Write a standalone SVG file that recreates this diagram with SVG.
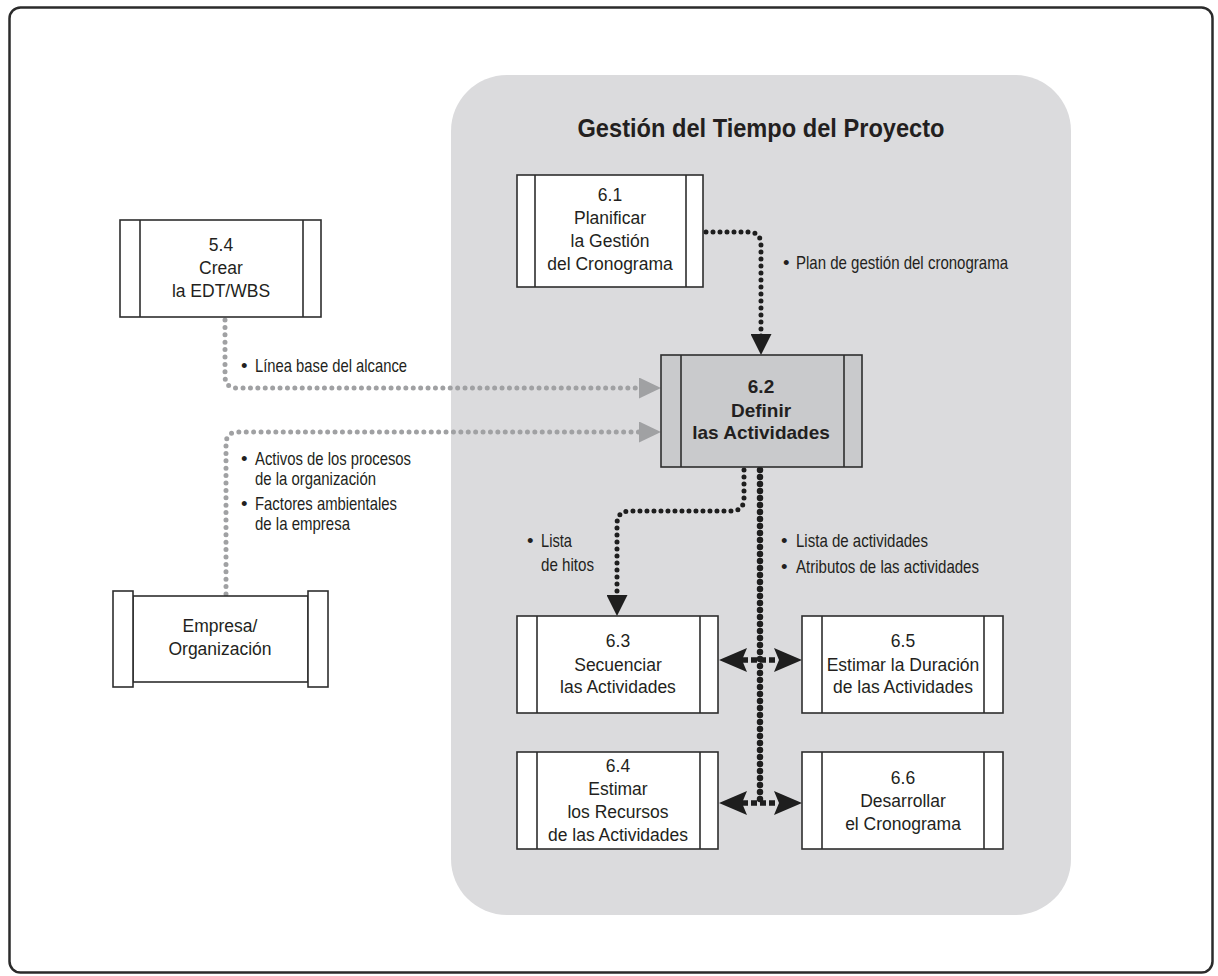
<svg xmlns="http://www.w3.org/2000/svg" width="1218" height="976" viewBox="0 0 1218 976">
  <defs>
    <style>
      .frame { fill: #ffffff; stroke: #2b2b2b; stroke-width: 2.5; }
      .panel { fill: #dbdbdd; }
      .box { fill: #ffffff; stroke: #2e2e2e; stroke-width: 1.6; }
      .box-hi { fill: #c9cacc; stroke: #2e2e2e; stroke-width: 1.6; }
      .bar { fill: none; stroke: #2e2e2e; stroke-width: 1.6; }
      .nt { font-family: "Liberation Sans", Arial, sans-serif; font-size: 17.5px; fill: #231f20; text-anchor: middle; }
      .nt-b { font-family: "Liberation Sans", Arial, sans-serif; font-size: 19px; font-weight: bold; fill: #231f20; text-anchor: middle; }
      .title { font-family: "Liberation Sans Narrow", "Liberation Sans", Arial, sans-serif; font-size: 25px; font-weight: bold; fill: #231f20; text-anchor: middle; }
      .lbl { font-family: "Liberation Sans Narrow", "Liberation Sans", Arial, sans-serif; font-size: 18.5px; fill: #231f20; }
      .gray-dots { fill: none; stroke: #a0a1a3; stroke-width: 5; stroke-linecap: round; stroke-dasharray: 0 7.4; }
      .black-dots { fill: none; stroke: #1e1e1e; stroke-width: 5; stroke-linecap: round; stroke-dasharray: 0 7; }
      .trunk { fill: none; stroke: #1e1e1e; stroke-width: 6.5; stroke-linecap: round; stroke-dasharray: 0 7; }
      .branch { fill: none; stroke: #1e1e1e; stroke-width: 5.5; stroke-dasharray: 6 3; }
      .tip { fill: none; stroke: none; }
    </style>
    <marker id="arrowGray" markerUnits="userSpaceOnUse" viewBox="0 0 22 21" refX="22" refY="10.5" markerWidth="22" markerHeight="21" orient="auto">
      <path d="M0,0 L22,10.5 L0,21 Z" fill="#a0a1a3"/>
    </marker>
    <marker id="arrowBlack" markerUnits="userSpaceOnUse" viewBox="0 0 21 21" refX="21" refY="10.5" markerWidth="21" markerHeight="21" orient="auto">
      <path d="M0,0 L21,10.5 L0,21 Z" fill="#1e1e1e"/>
    </marker>
    <marker id="arrowStealth" markerUnits="userSpaceOnUse" viewBox="0 -12 28 24" refX="28" refY="0" markerWidth="28" markerHeight="24" orient="auto-start-reverse">
      <path d="M28,0 L0,-12 L5,0 L0,12 Z" fill="#1e1e1e"/>
    </marker>
  </defs>

  <!-- outer frame -->
  <rect class="frame" x="9.5" y="7.5" width="1203" height="965" rx="11"/>

  <!-- knowledge area panel -->
  <g id="panel-tiempo">
    <rect class="panel" x="451" y="75" width="620" height="840" rx="56"/>
    <text class="title" x="761" y="137" textLength="367" lengthAdjust="spacingAndGlyphs">Gestión del Tiempo del Proyecto</text>
  </g>

  <!-- connectors -->
  <g id="connectors">
    <!-- 5.4 -> 6.2 -->
    <path class="gray-dots" d="M225,320 V376 Q225,388 237,388 H640"/>
    <path class="tip" d="M640,388 H661" marker-end="url(#arrowGray)"/>
    <!-- Empresa -> 6.2 -->
    <path class="gray-dots" d="M226,594 V444 Q226,432 238,432 H640"/>
    <path class="tip" d="M640,432 H661" marker-end="url(#arrowGray)"/>
    <!-- 6.1 -> 6.2 -->
    <path class="black-dots" d="M706,232 H748 Q761,232 761,245 V340"/>
    <path class="tip" d="M761,334 V355" marker-end="url(#arrowBlack)"/>
    <!-- 6.2 -> 6.3 -->
    <path class="black-dots" d="M744,470 V498 Q744,511 731,511 H630 Q617,511 617,524 V600"/>
    <path class="tip" d="M617,595 V616" marker-end="url(#arrowBlack)"/>
    <!-- 6.2 trunk to 6.5 / 6.4 / 6.6 -->
    <path class="trunk" d="M760,470 V800"/>
    <path class="branch" d="M742,660 H778"/>
    <path class="tip" d="M719,660 H747" marker-start="url(#arrowStealth)"/>
    <path class="tip" d="M774,660 H802" marker-end="url(#arrowStealth)"/>
    <path class="branch" d="M742,803 H778"/>
    <path class="tip" d="M719,803 H747" marker-start="url(#arrowStealth)"/>
    <path class="tip" d="M774,803 H802" marker-end="url(#arrowStealth)"/>
  </g>

  <!-- connector labels -->
  <g id="labels">
    <text class="lbl" x="241" y="372">•</text>
    <text class="lbl" x="255" y="372" textLength="152" lengthAdjust="spacingAndGlyphs">Línea base del alcance</text>
    <text class="lbl" x="241" y="465">•</text>
    <text class="lbl" x="255" y="465" textLength="156" lengthAdjust="spacingAndGlyphs">Activos de los procesos</text>
    <text class="lbl" x="255" y="485" textLength="121" lengthAdjust="spacingAndGlyphs">de la organización</text>
    <text class="lbl" x="241" y="510">•</text>
    <text class="lbl" x="255" y="510" textLength="142" lengthAdjust="spacingAndGlyphs">Factores ambientales</text>
    <text class="lbl" x="255" y="530" textLength="95" lengthAdjust="spacingAndGlyphs">de la empresa</text>
    <text class="lbl" x="783" y="269">•</text>
    <text class="lbl" x="796" y="269" textLength="212" lengthAdjust="spacingAndGlyphs">Plan de gestión del cronograma</text>
    <text class="lbl" x="527" y="547">•</text>
    <text class="lbl" x="541" y="547" textLength="31" lengthAdjust="spacingAndGlyphs">Lista</text>
    <text class="lbl" x="541" y="571" textLength="53" lengthAdjust="spacingAndGlyphs">de hitos</text>
    <text class="lbl" x="781" y="547">•</text>
    <text class="lbl" x="796" y="547" textLength="132" lengthAdjust="spacingAndGlyphs">Lista de actividades</text>
    <text class="lbl" x="781" y="573">•</text>
    <text class="lbl" x="796" y="573" textLength="183" lengthAdjust="spacingAndGlyphs">Atributos de las actividades</text>
  </g>

  <!-- 5.4 Crear la EDT/WBS -->
  <g id="node-5-4">
    <rect class="box" x="120" y="220" width="201" height="97"/>
    <path class="bar" d="M140,220 V317 M303,220 V317"/>
    <text class="nt" x="221" y="251">5.4</text>
    <text class="nt" x="221" y="274">Crear</text>
    <text class="nt" x="221" y="297">la EDT/WBS</text>
  </g>

  <!-- Empresa / Organizacion -->
  <g id="node-empresa">
    <rect class="box" x="133" y="596" width="175" height="86"/>
    <rect class="box" x="113" y="591" width="20" height="96"/>
    <rect class="box" x="308" y="591" width="20" height="96"/>
    <text class="nt" x="220" y="632">Empresa/</text>
    <text class="nt" x="220" y="655">Organización</text>
  </g>

  <!-- 6.1 -->
  <g id="node-6-1">
    <rect class="box" x="517" y="175" width="186" height="112"/>
    <path class="bar" d="M535,175 V287 M686,175 V287"/>
    <text class="nt" x="610" y="201">6.1</text>
    <text class="nt" x="610" y="224">Planificar</text>
    <text class="nt" x="610" y="247">la Gestión</text>
    <text class="nt" x="610" y="270">del Cronograma</text>
  </g>

  <!-- 6.2 -->
  <g id="node-6-2">
    <rect class="box-hi" x="661" y="355" width="201" height="112"/>
    <path class="bar" d="M681,355 V467 M844,355 V467"/>
    <text class="nt-b" x="761" y="393">6.2</text>
    <text class="nt-b" x="761" y="417">Definir</text>
    <text class="nt-b" x="761" y="439">las Actividades</text>
  </g>

  <!-- 6.3 -->
  <g id="node-6-3">
    <rect class="box" x="517" y="616" width="201" height="97"/>
    <path class="bar" d="M537,616 V713 M700,616 V713"/>
    <text class="nt" x="618" y="647">6.3</text>
    <text class="nt" x="618" y="671">Secuenciar</text>
    <text class="nt" x="618" y="693">las Actividades</text>
  </g>

  <!-- 6.5 -->
  <g id="node-6-5">
    <rect class="box" x="802" y="616" width="201" height="97"/>
    <path class="bar" d="M822,616 V713 M984,616 V713"/>
    <text class="nt" x="903" y="647">6.5</text>
    <text class="nt" x="903" y="671">Estimar la Duración</text>
    <text class="nt" x="903" y="693">de las Actividades</text>
  </g>

  <!-- 6.4 -->
  <g id="node-6-4">
    <rect class="box" x="517" y="752" width="201" height="97"/>
    <path class="bar" d="M537,752 V849 M700,752 V849"/>
    <text class="nt" x="618" y="772">6.4</text>
    <text class="nt" x="618" y="795">Estimar</text>
    <text class="nt" x="618" y="818">los Recursos</text>
    <text class="nt" x="618" y="841">de las Actividades</text>
  </g>

  <!-- 6.6 -->
  <g id="node-6-6">
    <rect class="box" x="802" y="752" width="201" height="97"/>
    <path class="bar" d="M822,752 V849 M984,752 V849"/>
    <text class="nt" x="903" y="784">6.6</text>
    <text class="nt" x="903" y="807">Desarrollar</text>
    <text class="nt" x="903" y="830">el Cronograma</text>
  </g>
</svg>
